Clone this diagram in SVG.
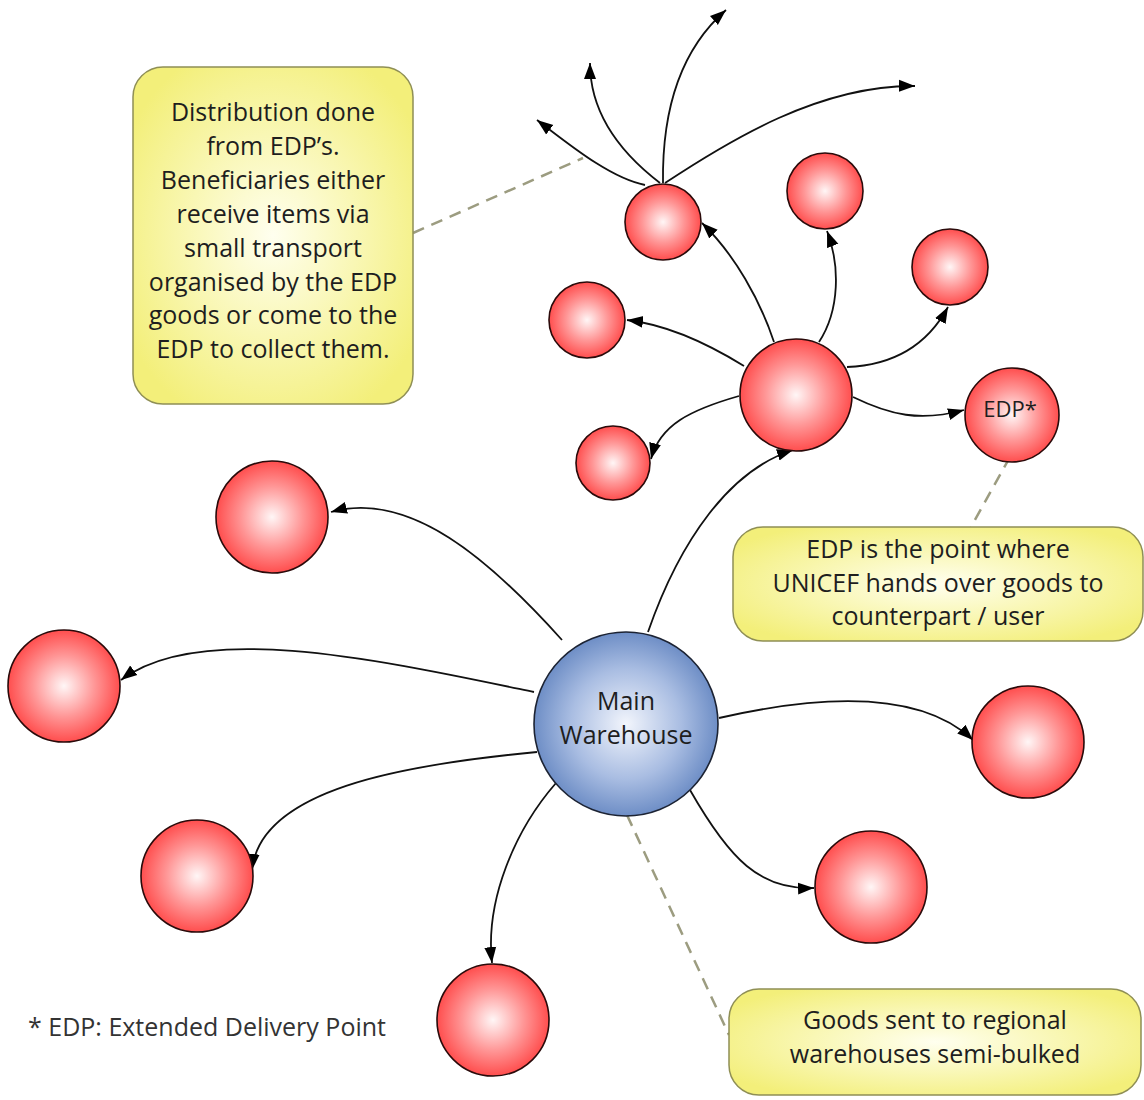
<svg xmlns="http://www.w3.org/2000/svg" width="1144" height="1100" viewBox="0 0 1144 1100">
<defs>
<radialGradient id="gRed" cx="50%" cy="50%" r="50%">
<stop offset="0" stop-color="#fff6f6"/>
<stop offset="0.55" stop-color="#ff9696"/>
<stop offset="1" stop-color="#ff4e4e"/>
</radialGradient>
<radialGradient id="gBlue" cx="50%" cy="50%" r="50%">
<stop offset="0" stop-color="#f2f5fc"/>
<stop offset="0.6" stop-color="#a9bde2"/>
<stop offset="1" stop-color="#6e8ec6"/>
</radialGradient>
<radialGradient id="gYel" cx="50%" cy="50%" r="60%">
<stop offset="0" stop-color="#ffffef"/>
<stop offset="1" stop-color="#f3ef7a"/>
</radialGradient>
<marker id="arr" markerUnits="userSpaceOnUse" markerWidth="18" markerHeight="14" refX="16" refY="7" orient="auto">
<path d="M0,1 L16,7 L0,13 z" fill="#000"/>
</marker>
</defs>
<style>
.red{fill:url(#gRed);stroke:#2a0a0a;stroke-width:1.6}
.blue{fill:url(#gBlue);stroke:#1c2333;stroke-width:1.6}
.call{fill:url(#gYel);stroke:#8f8f55;stroke-width:1.5}
.conn{fill:none;stroke:#111;stroke-width:1.8;marker-end:url(#arr)}
.lead{fill:none;stroke:#9c9c80;stroke-width:2.5;stroke-dasharray:12 8}
text{font-family:"Open Sans","Liberation Sans",sans-serif;font-size:25px;fill:#1e1e1e;text-anchor:middle}
</style>
<rect width="1144" height="1100" fill="#fff"/>

<g id="leaders">
<path class="lead" d="M413,233 L583,158"/>
<path class="lead" d="M1010,457 L971,527"/>
<path class="lead" d="M627,815 L729,1035"/>
</g>

<g id="connectors">
<path class="conn" d="M562,640 C490,560 410,490 331,512"/>
<path class="conn" d="M534,692 C380,660 200,620 121,680"/>
<path class="conn" d="M537,752 C400,765 260,790 252,870"/>
<path class="conn" d="M556,783 C515,830 485,900 492,963"/>
<path class="conn" d="M690,790 C730,860 760,890 814,888"/>
<path class="conn" d="M719,718 C820,695 920,690 973,740"/>
<path class="conn" d="M648,632 C680,540 730,470 793,450"/>
<path class="conn" d="M744,366 C710,345 670,325 627,320"/>
<path class="conn" d="M739,396 C690,410 660,425 651,459"/>
<path class="conn" d="M774,342 C760,300 735,255 702,223"/>
<path class="conn" d="M819,342 C840,310 840,265 827,231"/>
<path class="conn" d="M847,367 C900,365 930,340 948,307"/>
<path class="conn" d="M853,397 C890,415 920,422 964,410"/>
<path class="conn" d="M645,185 C610,178 570,145 537,120"/>
<path class="conn" d="M660,183 C630,160 590,120 590,63"/>
<path class="conn" d="M663,183 C662,110 680,50 726,10"/>
<path class="conn" d="M665,183 C730,140 820,85 915,86"/>
</g>

<g id="main-warehouse">
<circle class="blue" cx="626" cy="724" r="92"/>
<text x="626" y="710">Main</text>
<text x="626" y="744">Warehouse</text>
</g>
<g id="regional-hub"><circle class="red" cx="796" cy="395" r="56"/></g>
<g id="edp"><circle class="red" cx="1012" cy="415" r="47"/><text x="1010" y="417" style="font-size:22px">EDP*</text></g>
<g id="edp-top"><circle class="red" cx="663" cy="222" r="38"/></g>
<g id="edp-2"><circle class="red" cx="825" cy="191" r="38"/></g>
<g id="edp-3"><circle class="red" cx="950" cy="267" r="38"/></g>
<g id="edp-4"><circle class="red" cx="587" cy="320" r="38"/></g>
<g id="edp-5"><circle class="red" cx="613" cy="463" r="37"/></g>
<g id="rw-1"><circle class="red" cx="272" cy="517" r="56"/></g>
<g id="rw-2"><circle class="red" cx="64" cy="686" r="56"/></g>
<g id="rw-3"><circle class="red" cx="197" cy="876" r="56"/></g>
<g id="rw-4"><circle class="red" cx="493" cy="1020" r="56"/></g>
<g id="rw-5"><circle class="red" cx="871" cy="887" r="56"/></g>
<g id="rw-6"><circle class="red" cx="1028" cy="742" r="56"/></g>

<g id="callout-distribution">
<rect class="call" x="133" y="67" width="280" height="337" rx="30"/>
<text x="273" y="121">Distribution done</text>
<text x="273" y="155">from EDP’s.</text>
<text x="273" y="189">Beneficiaries either</text>
<text x="273" y="223">receive items via</text>
<text x="273" y="257">small transport</text>
<text x="273" y="291">organised by the EDP</text>
<text x="273" y="324">goods or come to the</text>
<text x="273" y="358">EDP to collect them.</text>
</g>
<g id="callout-edp">
<rect class="call" x="733" y="527" width="410" height="114" rx="30"/>
<text x="938" y="558">EDP is the point where</text>
<text x="938" y="592">UNICEF hands over goods to</text>
<text x="938" y="625">counterpart / user</text>
</g>
<g id="callout-goods">
<rect class="call" x="729" y="989" width="412" height="106" rx="30"/>
<text x="935" y="1029">Goods sent to regional</text>
<text x="935" y="1063">warehouses semi-bulked</text>
</g>
<g id="legend">
<text x="28" y="1036" style="text-anchor:start;fill:#333">* EDP: Extended Delivery Point</text>
</g>
</svg>
